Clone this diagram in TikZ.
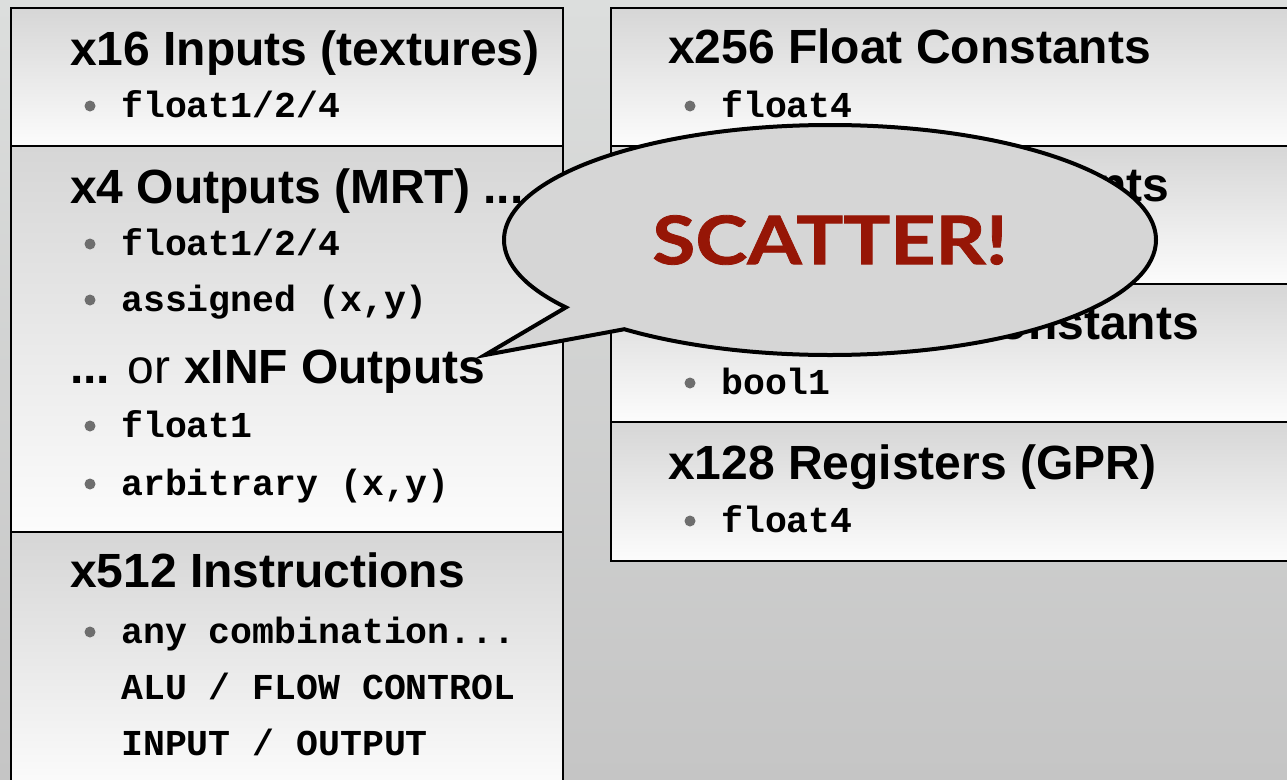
\documentclass[tikz,border=0pt]{standalone}
\usepackage{fontspec}
\setmainfont{Liberation Sans}
\newfontfamily\codefont{Liberation Mono}
\newfontfamily\shoutfont{Lato}[FakeStretch=1.17, FakeBold=1.2]
\usetikzlibrary{shapes.callouts,calc}

\definecolor{slidetop}{HTML}{DCDEDD}
\definecolor{slidebot}{HTML}{C5C5C5}
\definecolor{paneltop}{HTML}{D6D6D6}
\definecolor{panelbot}{HTML}{FCFCFC}
\definecolor{bubble}{HTML}{D6D6D6}
\definecolor{shout}{HTML}{961606}
\definecolor{dotgrey}{HTML}{6E6E6E}

% one bullet line: name, x, baseline y, text
\newcommand{\bulletline}[4]{%
  \node[bulletdot] (#1-dot) at (#2-31, #3-11) {};
  \node[entry] (#1) at (#2, #3) {#4};}

\begin{document}
\begin{tikzpicture}[x=1pt, y=-1pt,
    panel/.style={rectangle, draw=black, line width=2pt, top color=paneltop, bottom color=panelbot, anchor=north west, inner sep=0pt, minimum height=138pt},
    heading/.style={anchor=base west, inner sep=0pt, font=\fontsize{48}{56}\selectfont\bfseries},
    entry/.style={anchor=base west, inner sep=0pt, font=\codefont\bfseries\fontsize{36.5}{44}\selectfont},
    bulletdot/.style={circle, fill=dotgrey, inner sep=0pt, minimum size=11pt}
  ]
  \useasboundingbox (0,0) rectangle (1287,779);
  \clip (0,0) rectangle (1287,779);
  \fill[top color=slidetop, bottom color=slidebot] (0,0) rectangle (1287,779);

  % left column
  \node[panel, minimum width=552pt] (inputs) at (10,7) {};
  \node[panel, minimum width=552pt, minimum height=386pt] (outputs) at (10,145) {};
  \node[panel, minimum width=552pt, minimum height=260pt] (instr) at (10,531) {};

  % right column
  \node[panel, minimum width=700pt] (fconst) at (610,7) {};
  \node[panel, minimum width=700pt] (iconst) at (610,145) {};
  \node[panel, minimum width=700pt] (bconst) at (610,283) {};
  \node[panel, minimum width=700pt, minimum height=139pt] (regs) at (610,421) {};

  % texts
  \node[heading] (inputs-t) at (70,65) {x16 Inputs (textures)};
  \bulletline{inputs-a}{121}{117}{float1/2/4}

  \node[heading] (outputs-t) at (70,203) {x4 Outputs (MRT) ...};
  \bulletline{outputs-a}{121}{255}{float1/2/4}
  \bulletline{outputs-b}{121}{311}{assigned (x,y)}
  \node[heading] (scatter-t) at (70,383) {... {\mdseries or} xINF Outputs};
  \bulletline{outputs-c}{121}{437}{float1}
  \bulletline{outputs-d}{121}{495}{arbitrary (x,y)}

  \node[heading] (instr-t) at (70,587) {x512 Instructions};
  \bulletline{instr-a}{121}{643}{any combination...}
  \node[entry] (instr-b) at (121,699) {ALU / FLOW CONTROL};
  \node[entry] (instr-c) at (121,755) {INPUT / OUTPUT};

  \node[heading] (fconst-t) at (668,63) {x256 Float Constants};
  \bulletline{fconst-a}{721}{117}{float4}
  \node[heading] (iconst-t) at (668,201) {x16 Integer Constants};
  \node[heading] (bconst-t) at (668,339) {x16 Boolean Constants};
  \bulletline{bconst-a}{721}{394}{bool1}
  \node[heading] (regs-t) at (668,479) {x128 Registers (GPR)};
  \bulletline{regs-a}{721}{532}{float4}

  % speech bubble
  \coordinate (tip) at (485,355);
  \node[ellipse callout, draw=black, line width=4pt, fill=bubble, minimum width=652pt, minimum height=230pt,
    callout absolute pointer={(tip)}, text=shout, font=\shoutfont\bfseries\fontsize{67}{74}\selectfont] (scatter) at (830,240) {SCATTER!};
\end{tikzpicture}
\end{document}
